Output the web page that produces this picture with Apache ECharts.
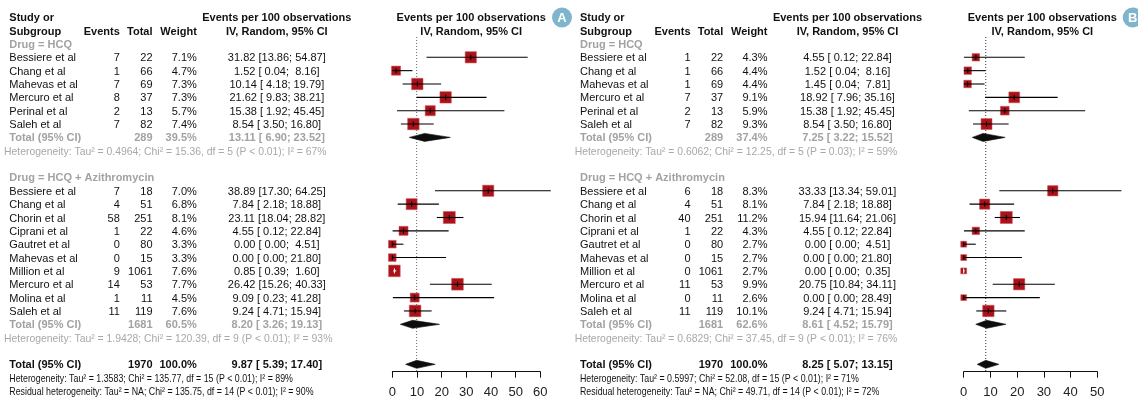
<!DOCTYPE html>
<html>
<head>
<meta charset="utf-8">
<script src="https://cdn.jsdelivr.net/npm/echarts@6/dist/echarts.min.js"></script>
<style>
  html, body { margin: 0; padding: 0; background: #fff; }
  #chart { width: 1138px; height: 399px; }
</style>
</head>
<body>
<div id="chart"></div>
<script>
// ---- Studies in each subgroup ----
const studiesHCQ = ['Bessiere et al', 'Chang et al', 'Mahevas et al', 'Mercuro et al', 'Perinal et al', 'Saleh et al'];
const studiesAZ = ['Bessiere et al', 'Chang et al', 'Chorin et al', 'Ciprani et al', 'Gautret et al',
                   'Mahevas et al', 'Million et al', 'Mercuro et al', 'Molina et al', 'Saleh et al'];
const subgroupLabels = ['Drug = HCQ', 'Drug = HCQ + Azithromycin'];

// ---- Panel A ----
const aHcqEvents = [7, 1, 7, 8, 2, 7];
const aHcqTotal  = [22, 66, 69, 37, 13, 82];
const aHcqWeight = [7.1, 4.7, 7.3, 7.3, 5.7, 7.4];
const aHcqEst    = [31.82, 1.52, 10.14, 21.62, 15.38, 8.54];
const aHcqLo     = [13.86, 0.04, 4.18, 9.83, 1.92, 3.50];
const aHcqHi     = [54.87, 8.16, 19.79, 38.21, 45.45, 16.80];

const aAzEvents = [7, 4, 58, 1, 0, 0, 9, 14, 1, 11];
const aAzTotal  = [18, 51, 251, 22, 80, 15, 1061, 53, 11, 119];
const aAzWeight = [7.0, 6.8, 8.1, 4.6, 3.3, 3.3, 7.6, 7.7, 4.5, 7.6];
const aAzEst    = [38.89, 7.84, 23.11, 4.55, 0.00, 0.00, 0.85, 26.42, 9.09, 9.24];
const aAzLo     = [17.30, 2.18, 18.04, 0.12, 0.00, 0.00, 0.39, 15.26, 0.23, 4.71];
const aAzHi     = [64.25, 18.88, 28.82, 22.84, 4.51, 21.80, 1.60, 40.33, 41.28, 15.94];

// pooled rows: [HCQ, HCQ + Azithromycin, overall]
const aPoolN   = [289, 1681, 1970];
const aPoolW   = [39.5, 60.5, 100.0];
const aPoolEst = [13.11, 8.20, 9.87];
const aPoolLo  = [6.90, 3.26, 5.39];
const aPoolHi  = [23.52, 19.13, 17.40];
// heterogeneity: [HCQ, HCQ + Azithromycin, overall, residual]
const aHetTau2 = ['0.4964', '1.9428', '1.3583', 'NA'];
const aHetChi2 = ['15.36', '120.39', '135.77', '135.75'];
const aHetDf   = [5, 9, 15, 14];
const aHetP    = ['< 0.01', '< 0.01', '< 0.01', '< 0.01'];
const aHetI2   = [67, 93, 89, 90];

// ---- Panel B ----
const bHcqEvents = [1, 1, 1, 7, 2, 7];
const bHcqTotal  = [22, 66, 69, 37, 13, 82];
const bHcqWeight = [4.3, 4.4, 4.4, 9.1, 5.9, 9.3];
const bHcqEst    = [4.55, 1.52, 1.45, 18.92, 15.38, 8.54];
const bHcqLo     = [0.12, 0.04, 0.04, 7.96, 1.92, 3.50];
const bHcqHi     = [22.84, 8.16, 7.81, 35.16, 45.45, 16.80];

const bAzEvents = [6, 4, 40, 1, 0, 0, 0, 11, 0, 11];
const bAzTotal  = [18, 51, 251, 22, 80, 15, 1061, 53, 11, 119];
const bAzWeight = [8.3, 8.1, 11.2, 4.3, 2.7, 2.7, 2.7, 9.9, 2.6, 10.1];
const bAzEst    = [33.33, 7.84, 15.94, 4.55, 0.00, 0.00, 0.00, 20.75, 0.00, 9.24];
const bAzLo     = [13.34, 2.18, 11.64, 0.12, 0.00, 0.00, 0.00, 10.84, 0.00, 4.71];
const bAzHi     = [59.01, 18.88, 21.06, 22.84, 4.51, 21.80, 0.35, 34.11, 28.49, 15.94];

const bPoolN   = [289, 1681, 1970];
const bPoolW   = [37.4, 62.6, 100.0];
const bPoolEst = [7.25, 8.61, 8.25];
const bPoolLo  = [3.22, 4.52, 5.07];
const bPoolHi  = [15.52, 15.79, 13.15];
const bHetTau2 = ['0.6062', '0.6829', '0.5997', 'NA'];
const bHetChi2 = ['12.25', '37.45', '52.08', '49.71'];
const bHetDf   = [5, 9, 15, 14];
const bHetP    = ['= 0.03', '< 0.01', '< 0.01', '< 0.01'];
const bHetI2   = [59, 76, 71, 72];

// axis ticks of the two forest panels
const aTicks = [0, 10, 20, 30, 40, 50, 60];
const bTicks = [0, 10, 20, 30, 40, 50];

// ---- layout ----
const ROW0 = 57.3, ROWH = 13.35;          // pixel y of row 0 and row pitch
const PLOT_TOP = 37, PLOT_BOTTOM = 371.7; // forest panel vertical extent
const TEXT_DY = 1;                         // baseline nudge for table text
const rowAt = y => (y - ROW0) / ROWH;
const FONT = '"Liberation Sans", Arial, Helvetica, sans-serif';
const STYLES = {
  txt:   { font: '11px ' + FONT, fill: '#111' },
  head:  { font: 'bold 11px ' + FONT, fill: '#111' },
  sub:   { font: 'bold 11px ' + FONT, fill: '#a2a2a2' },
  subHet:{ font: '10.4px ' + FONT, fill: '#a8a8a8' },
  tot:   { font: 'bold 11px ' + FONT, fill: '#111' },
  het:   { font: '10.5px ' + FONT, fill: '#111', scaleX: 0.84 }
};

const fmt = v => v.toFixed(2);
const pad = v => (v < 10 ? ' ' : '') + fmt(v);
const ciText = (e, l, h) => fmt(e) + ' [' + pad(l) + '; ' + pad(h) + ']';
const hetText = (tau, chi, df, p, i2) =>
  'Tau\u00b2 = ' + tau + '; Chi\u00b2 = ' + chi + ', df = ' + df + ' (P ' + p + '); I\u00b2 = ' + i2 + '%';

const cells = [];
function cell(x, row, text, align, style) { cells.push({ x, row, text, align, style }); }

function buildPanel(off, P) {
  const col = { study: 9.3 + off, ev: 119.8 + off, tot: 152.5 + off, w: 196.8 + off, ci: 276.8 + off, plot: P.headCenter };
  cell(col.study, -3, 'Study or', 'left', 'head');
  cell(col.study, -2, 'Subgroup', 'left', 'head');
  cell(col.ev, -2, 'Events', 'right', 'head');
  cell(col.tot, -2, 'Total', 'right', 'head');
  cell(col.w, -2, 'Weight', 'right', 'head');
  [col.ci, col.plot].forEach(x => {
    cell(x, -3, 'Events per 100 observations', 'center', 'head');
    cell(x, -2, 'IV, Random, 95% CI', 'center', 'head');
  });
  const studies = [], pooled = [];
  const groups = [
    { names: studiesHCQ, ev: P.hcq[0], n: P.hcq[1], w: P.hcq[2], e: P.hcq[3], lo: P.hcq[4], hi: P.hcq[5], start: 0 },
    { names: studiesAZ,  ev: P.az[0],  n: P.az[1],  w: P.az[2],  e: P.az[3],  lo: P.az[4],  hi: P.az[5],  start: 10 }
  ];
  groups.forEach((g, gi) => {
    cell(col.study, g.start - 1, subgroupLabels[gi], 'left', 'sub');
    g.names.forEach((name, i) => {
      const r = g.start + i;
      cell(col.study, r, name, 'left', 'txt');
      cell(col.ev, r, String(g.ev[i]), 'right', 'txt');
      cell(col.tot, r, String(g.n[i]), 'right', 'txt');
      cell(col.w, r, g.w[i].toFixed(1) + '%', 'right', 'txt');
      cell(col.ci, r, ciText(g.e[i], g.lo[i], g.hi[i]), 'center', 'txt');
      studies.push([g.e[i], r, g.lo[i], g.hi[i], g.w[i]]);
    });
    const tr = g.start + g.names.length;
    cell(col.study, tr, 'Total (95% CI)', 'left', 'sub');
    cell(col.tot, tr, String(P.poolN[gi]), 'right', 'sub');
    cell(col.w, tr, P.poolW[gi].toFixed(1) + '%', 'right', 'sub');
    cell(col.ci, tr, ciText(P.poolEst[gi], P.poolLo[gi], P.poolHi[gi]), 'center', 'sub');
    cell(col.study - 5.3, tr + 1, 'Heterogeneity: ' + hetText(P.tau[gi], P.chi[gi], P.df[gi], P.p[gi], P.i2[gi]), 'left', 'subHet');
    pooled.push([P.poolEst[gi], tr, P.poolLo[gi], P.poolHi[gi]]);
  });
  cell(col.study, 23, 'Total (95% CI)', 'left', 'tot');
  cell(col.tot, 23, String(P.poolN[2]), 'right', 'tot');
  cell(col.w, 23, P.poolW[2].toFixed(1) + '%', 'right', 'tot');
  cell(col.ci, 23, ciText(P.poolEst[2], P.poolLo[2], P.poolHi[2]), 'center', 'tot');
  cell(col.study, 24, 'Heterogeneity: ' + hetText(P.tau[2], P.chi[2], P.df[2], P.p[2], P.i2[2]), 'left', 'het');
  cell(col.study, 25, 'Residual heterogeneity: ' + hetText(P.tau[3], P.chi[3], P.df[3], P.p[3], P.i2[3]), 'left', 'het');
  pooled.push([P.poolEst[2], 23, P.poolLo[2], P.poolHi[2]]);
  return { studies, pooled, wMax: Math.max(...studies.map(s => s[4])), ref: P.poolEst[2] };
}

const panelA = buildPanel(0, {
  headCenter: 471.2,
  hcq: [aHcqEvents, aHcqTotal, aHcqWeight, aHcqEst, aHcqLo, aHcqHi],
  az: [aAzEvents, aAzTotal, aAzWeight, aAzEst, aAzLo, aAzHi],
  poolN: aPoolN, poolW: aPoolW, poolEst: aPoolEst, poolLo: aPoolLo, poolHi: aPoolHi,
  tau: aHetTau2, chi: aHetChi2, df: aHetDf, p: aHetP, i2: aHetI2
});
const panelB = buildPanel(570.7, {
  headCenter: 1042.3,
  hcq: [bHcqEvents, bHcqTotal, bHcqWeight, bHcqEst, bHcqLo, bHcqHi],
  az: [bAzEvents, bAzTotal, bAzWeight, bAzEst, bAzLo, bAzHi],
  poolN: bPoolN, poolW: bPoolW, poolEst: bPoolEst, poolLo: bPoolLo, poolHi: bPoolHi,
  tau: bHetTau2, chi: bHetChi2, df: bHetDf, p: bHetP, i2: bHetI2
});

// ---- render helpers ----
function renderCell(params, api) {
  const c = cells[params.dataIndex];
  const p = api.coord([c.x, c.row]);
  const s = STYLES[c.style];
  const sx = s.scaleX || 1;
  return {
    type: 'text', x: p[0], y: p[1] + TEXT_DY, scaleX: sx,
    style: { text: c.text, x: 0, y: 0, align: c.align, verticalAlign: 'middle', font: s.font, fill: s.fill }
  };
}

function studyRenderer(wMax) {
  return function (params, api) {
    const c = api.coord([api.value(0), api.value(1)]);
    const pl = api.coord([api.value(2), api.value(1)]);
    const ph = api.coord([api.value(3), api.value(1)]);
    const side = 12 * Math.sqrt(api.value(4) / wMax);
    const half = side / 2;
    const inside = (c[0] - pl[0] <= half) && (ph[0] - c[0] <= half);
    const lineCol = inside ? '#fff' : '#000';
    return {
      type: 'group',
      children: [
        { type: 'rect', shape: { x: c[0] - half, y: c[1] - half, width: side, height: side },
          style: { fill: '#aa1219', stroke: 'rgba(205,80,88,0.55)', lineWidth: 1 } },
        { type: 'line', shape: { x1: pl[0], y1: c[1], x2: ph[0], y2: c[1] },
          style: { stroke: lineCol, lineWidth: 1.1 } },
        { type: 'line', shape: { x1: c[0], y1: c[1] - 2.5, x2: c[0], y2: c[1] + 2.5 },
          style: { stroke: lineCol, lineWidth: 1 } }
      ]
    };
  };
}

function renderDiamond(params, api) {
  const c = api.coord([api.value(0), api.value(1)]);
  const pl = api.coord([api.value(2), api.value(1)]);
  const ph = api.coord([api.value(3), api.value(1)]);
  const h = 4;
  return { type: 'polygon', shape: { points: [[pl[0], c[1]], [c[0], c[1] - h], [ph[0], c[1]], [c[0], c[1] + h]] },
           style: { fill: '#0d0d0d', stroke: '#0d0d0d', lineWidth: 0.6 } };
}

function forestAxis(gridIndex, max) {
  return {
    type: 'value', gridIndex, min: 0, max, interval: 10,
    axisLine: { show: true, onZero: false, lineStyle: { color: '#111', width: 1 } },
    axisTick: { show: true, length: 6, lineStyle: { color: '#111', width: 1 } },
    axisLabel: { show: true, fontSize: 13, color: '#222', margin: 14, fontFamily: FONT },
    splitLine: { show: false }
  };
}
const rowAxis = gridIndex => ({ type: 'value', gridIndex, inverse: true, show: false,
  min: rowAt(PLOT_TOP), max: rowAt(PLOT_BOTTOM) });

const chart = echarts.init(document.getElementById('chart'), null, { renderer: 'canvas' });
const plotH = PLOT_BOTTOM - PLOT_TOP;
chart.setOption({
  animation: false,
  backgroundColor: '#fff',
  grid: [
    { left: 0, top: 0, width: 1138, height: 399 },
    { left: 392.3, top: PLOT_TOP, width: 148, height: plotH },
    { left: 963.7, top: PLOT_TOP, width: 133.6, height: plotH }
  ],
  xAxis: [
    { type: 'value', gridIndex: 0, min: 0, max: 1138, show: false },
    forestAxis(1, aTicks[aTicks.length - 1]),
    forestAxis(2, bTicks[bTicks.length - 1])
  ],
  yAxis: [
    { type: 'value', gridIndex: 0, inverse: true, show: false, min: rowAt(0), max: rowAt(399) },
    rowAxis(1),
    rowAxis(2)
  ],
  graphic: [
    { type: 'circle', shape: { cx: 562, cy: 17.5, r: 10 }, style: { fill: '#7fb5cc' } },
    { type: 'text', style: { text: 'A', x: 562, y: 18, align: 'center', verticalAlign: 'middle', font: 'bold 13px ' + FONT, fill: '#fff' } },
    { type: 'circle', shape: { cx: 1132.7, cy: 17.5, r: 10 }, style: { fill: '#7fb5cc' } },
    { type: 'text', style: { text: 'B', x: 1132.7, y: 18, align: 'center', verticalAlign: 'middle', font: 'bold 13px ' + FONT, fill: '#fff' } }
  ],
  series: [
    { type: 'custom', xAxisIndex: 0, yAxisIndex: 0, clip: false, silent: true,
      data: cells.map(c => [c.x, c.row]), renderItem: renderCell },
    // reference lines at the overall estimate
    { type: 'line', xAxisIndex: 1, yAxisIndex: 1, symbol: 'none', silent: true, z: 1,
      data: [[panelA.ref, rowAt(PLOT_TOP)], [panelA.ref, rowAt(PLOT_BOTTOM)]],
      lineStyle: { color: '#666', width: 1, type: [1, 2] } },
    { type: 'line', xAxisIndex: 2, yAxisIndex: 2, symbol: 'none', silent: true, z: 1,
      data: [[panelB.ref, rowAt(PLOT_TOP)], [panelB.ref, rowAt(PLOT_BOTTOM)]],
      lineStyle: { color: '#333', width: 1, type: [1, 2] } },
    { type: 'custom', xAxisIndex: 1, yAxisIndex: 1, clip: false, silent: true, z: 3,
      data: panelA.studies, renderItem: studyRenderer(panelA.wMax) },
    { type: 'custom', xAxisIndex: 2, yAxisIndex: 2, clip: false, silent: true, z: 3,
      data: panelB.studies, renderItem: studyRenderer(panelB.wMax) },
    { type: 'custom', xAxisIndex: 1, yAxisIndex: 1, clip: false, silent: true, z: 3,
      data: panelA.pooled, renderItem: renderDiamond },
    { type: 'custom', xAxisIndex: 2, yAxisIndex: 2, clip: false, silent: true, z: 3,
      data: panelB.pooled, renderItem: renderDiamond }
  ]
});
</script>
</body>
</html>
